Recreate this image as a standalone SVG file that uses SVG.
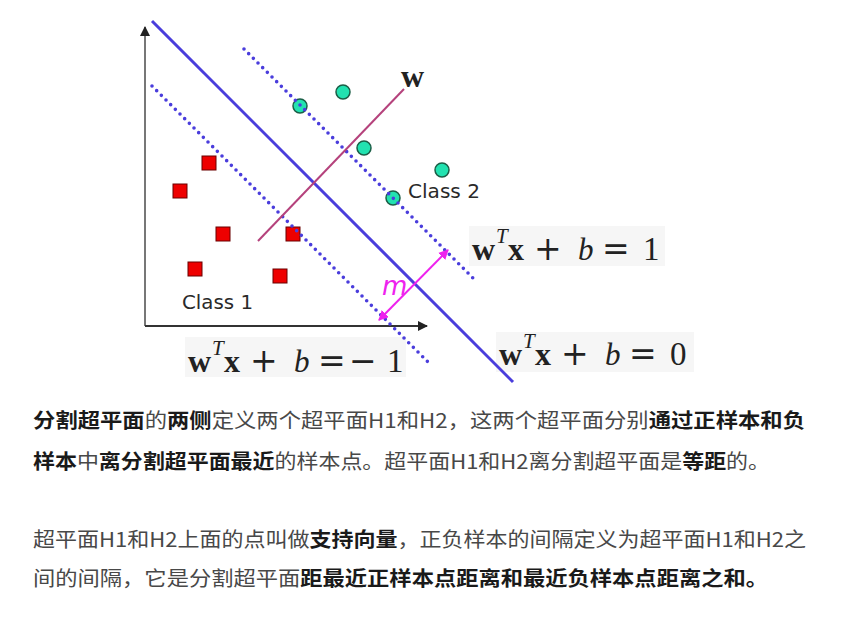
<svg xmlns="http://www.w3.org/2000/svg" width="852" height="620" viewBox="0 0 852 620">
<defs>
<style>
.axis{stroke:#333;stroke-width:2;fill:none}
.yaxis{stroke:#777;stroke-width:2;fill:none}
.hyper{stroke:#4a3ddc;stroke-width:3;fill:none}
.dotted{stroke:#4a3ddc;stroke-width:3.6;stroke-linecap:round;stroke-dasharray:0 6.6;fill:none}
.wline{stroke:#b5427c;stroke-width:2;fill:none}
.marg{stroke:#ee22ee;stroke-width:2;fill:none}
.c2{fill:#22e2b0;stroke:#1b5e46;stroke-width:1.5}
.c1{fill:#ee0000;stroke:#6a0000;stroke-width:1}
.cls{font-family:"DejaVu Sans","Liberation Sans",sans-serif;font-size:20px;fill:#2a2a2a}
.mb{font-family:"Liberation Serif","DejaVu Serif",serif;font-weight:bold;font-size:32px;fill:#222}
.mi{font-family:"Liberation Serif","DejaVu Serif",serif;font-style:italic;font-size:31px;fill:#222}
.sup{font-size:21px}
.mr{font-family:"Liberation Serif","DejaVu Serif",serif;font-size:33px;fill:#222}
.op{font-family:"DejaVu Serif","Liberation Serif",serif;font-size:33px;fill:#222}
.eqbg{fill:#f6f6f6}
.para{font-family:"Noto Sans CJK SC","Noto Sans",sans-serif;font-size:20px;fill:#484848}
.b{font-weight:bold;fill:#1a1a1a}
</style>
<marker id="axArrow" viewBox="0 0 10 10" refX="9" refY="5" markerWidth="5" markerHeight="5" orient="auto-start-reverse">
<path d="M0,0 L10,5 L0,10 z" fill="#222"/>
</marker>
<marker id="mArrow" viewBox="0 0 10 10" refX="9" refY="5" markerWidth="5" markerHeight="5" orient="auto-start-reverse">
<path d="M0,0 L10,5 L0,10 z" fill="#ee22ee"/>
</marker>
</defs>
<rect x="0" y="0" width="852" height="620" fill="#ffffff"/>

<rect class="eqbg" x="469" y="226" width="196" height="40"/>
<rect class="eqbg" x="496" y="332" width="198" height="40"/>
<rect class="eqbg" x="185" y="337" width="221" height="40"/>

<g id="axes">
<line class="yaxis" x1="145" y1="326" x2="145" y2="27" marker-end="url(#axArrow)"/>
<line class="axis" x1="145" y1="326" x2="427" y2="326" marker-end="url(#axArrow)"/>
</g>

<g id="points">
<g id="class1">
<rect class="c1" x="202" y="156" width="14" height="14"/>
<rect class="c1" x="173" y="184" width="14" height="14"/>
<rect class="c1" x="216" y="227" width="14" height="14"/>
<rect class="c1" x="286" y="227" width="14" height="14"/>
<rect class="c1" x="188" y="262" width="14" height="14"/>
<rect class="c1" x="273" y="269" width="14" height="14"/>
</g>
<g id="class2">
<circle class="c2" cx="300" cy="106" r="7"/>
<circle class="c2" cx="343" cy="92" r="7"/>
<circle class="c2" cx="364" cy="148" r="7"/>
<circle class="c2" cx="442" cy="170" r="7"/>
<circle class="c2" cx="393" cy="198" r="7"/>
</g>
</g>

<g id="connectors">
<line id="hyperplane" class="hyper" x1="152" y1="21" x2="513" y2="382"/>
<line id="H2" class="dotted" x1="244" y1="49" x2="477" y2="282"/>
<line id="H1" class="dotted" x1="152" y1="86" x2="428" y2="362"/>
<line id="wvec" class="wline" x1="258" y1="241" x2="404" y2="89"/>
<line id="margin" class="marg" x1="379" y1="320" x2="448" y2="250" marker-start="url(#mArrow)" marker-end="url(#mArrow)"/>
</g>

<g id="labels">
<text class="mb" x="401" y="87" font-size="30">w</text>
<text x="382" y="295" font-family="DejaVu Sans, sans-serif" font-style="italic" font-size="26" fill="#ee22ee">m</text>
<text class="cls" x="182" y="309" textLength="71" lengthAdjust="spacingAndGlyphs">Class 1</text>
<text class="cls" x="408" y="198" textLength="72" lengthAdjust="spacingAndGlyphs">Class 2</text>
</g>

<g id="eq1" transform="translate(472,260)">
<text class="mb" x="0" y="0">w</text>
<text class="mi sup" x="24" y="-17">T</text>
<text class="mb" x="36" y="0">x</text>
<text class="op" x="62" y="0">+</text>
<text class="mi" x="106" y="0">b</text>
<text class="op" x="130" y="0">=</text>
<text class="mr" x="171" y="0">1</text>
</g>
<g id="eq0" transform="translate(499,365)">
<text class="mb" x="0" y="0">w</text>
<text class="mi sup" x="24" y="-17">T</text>
<text class="mb" x="36" y="0">x</text>
<text class="op" x="62" y="0">+</text>
<text class="mi" x="106" y="0">b</text>
<text class="op" x="130" y="0">=</text>
<text class="mr" x="171" y="0">0</text>
</g>
<g id="eqm1" transform="translate(188,372)">
<text class="mb" x="0" y="0">w</text>
<text class="mi sup" x="24" y="-17">T</text>
<text class="mb" x="36" y="0">x</text>
<text class="op" x="62" y="0">+</text>
<text class="mi" x="106" y="0">b</text>
<text class="op" x="130" y="0">=</text>
<text class="op" x="161" y="0">−</text>
<text class="mr" x="199" y="0">1</text>
</g>

<g id="text">
<text class="para" x="33" y="428" textLength="772" lengthAdjust="spacingAndGlyphs"><tspan class="b">分割超平面</tspan>的<tspan class="b">两侧</tspan>定义两个超平面H1和H2，这两个超平面分别<tspan class="b">通过正样本和负</tspan></text>
<text class="para" x="33" y="469" textLength="737" lengthAdjust="spacingAndGlyphs"><tspan class="b">样本</tspan>中<tspan class="b">离分割超平面最近</tspan>的样本点。超平面H1和H2离分割超平面是<tspan class="b">等距</tspan>的。</text>
<text class="para" x="33" y="547" textLength="773" lengthAdjust="spacingAndGlyphs">超平面H1和H2上面的点叫做<tspan class="b">支持向量</tspan>，正负样本的间隔定义为超平面H1和H2之</text>
<text class="para" x="33" y="586" textLength="735" lengthAdjust="spacingAndGlyphs">间的间隔，它是分割超平面<tspan class="b">距最近正样本点距离和最近负样本点距离之和。</tspan></text>
</g>
</svg>
